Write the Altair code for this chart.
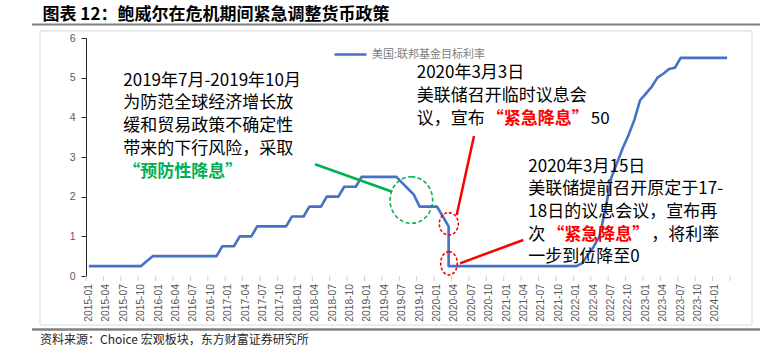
import altair as alt
import pandas as pd

# ---------------- data ----------------
months = pd.date_range("2015-01-01", "2024-03-01", freq="MS").strftime("%Y-%m").tolist()

rates = [
    0.25, 0.25, 0.25, 0.25, 0.25, 0.25, 0.25, 0.25, 0.25, 0.25,   # 2015-01..2015-10
    0.38,                                                         # 2015-11
    0.5, 0.5, 0.5, 0.5, 0.5, 0.5, 0.5, 0.5, 0.5, 0.5, 0.5, 0.5,   # 2015-12..2016-11
    0.75, 0.75, 0.75,                                             # 2016-12..2017-02
    1.0, 1.0, 1.0,                                                # 2017-03..2017-05
    1.25, 1.25, 1.25, 1.25, 1.25, 1.25,                           # 2017-06..2017-11
    1.5, 1.5, 1.5,                                                # 2017-12..2018-02
    1.75, 1.75, 1.75,                                             # 2018-03..2018-05
    2.0, 2.0, 2.0,                                                # 2018-06..2018-08
    2.25, 2.25, 2.25,                                             # 2018-09..2018-11
    2.5, 2.5, 2.5, 2.5, 2.5, 2.5, 2.5,                            # 2018-12..2019-06
    2.35, 2.2, 2.05,                                              # 2019-07..2019-09
    1.75, 1.75, 1.75, 1.75,                                       # 2019-10..2020-01
    1.5,                                                          # 2020-02
    0.25,                                                         # 2020-03
    0.25, 0.25, 0.25, 0.25, 0.25, 0.25, 0.25, 0.25, 0.25, 0.25, 0.25,
    0.25, 0.25, 0.25, 0.25, 0.25, 0.25, 0.25, 0.25, 0.25, 0.25, 0.25,  # 2020-04..2022-01
    0.32, 0.53, 0.74, 1.0, 1.66, 2.46, 2.84, 3.22, 3.55,          # 2022-02..2022-10
    3.93, 4.43, 4.6, 4.77, 5.0, 5.1, 5.22, 5.25, 5.5,             # 2022-11..2023-07
    5.5, 5.5, 5.5, 5.5, 5.5, 5.5, 5.5, 5.5,                       # 2023-08..2024-03
]

# two emergency cuts inside March 2020: an extra intra-month point
intra_month = "2020-03"
intra_rate = 1.25

series_name = "美国:联邦基金目标利率"
tick_labels = months[::3]
y_ticks = [0, 1, 2, 3, 4, 5, 6]

rows = []
order = 0
for i, (m, r) in enumerate(zip(months, rates)):
    if m == intra_month:
        rows.append({"idx": i, "month": m, "rate": intra_rate, "order": order, "series": series_name})
        order += 1
    rows.append({"idx": i, "month": m, "rate": r, "order": order, "series": series_name})
    order += 1
df = pd.DataFrame(rows)

# x labels every 3 months (centred on their month), tick marks on band boundaries
label_df = pd.DataFrame({"pos": [months.index(t) for t in tick_labels], "label": tick_labels})
tick_pos = pd.DataFrame({"pos": [k - 0.5 for k in range(0, len(months) + 1, 3)]})

# ---------------- layout ----------------
W, H = 644, 238
CJK = "Noto Sans CJK SC"
LAT = "Liberation Sans"
BLUE = "#4472C4"
GREEN = "#00B050"
RED = "#FF0000"
FS = 17

x_scale = alt.Scale(domain=[-0.5, len(months) - 0.5], nice=False, zero=False)
y_scale = alt.Scale(domain=[0, 6], nice=False)

line = alt.Chart(df).mark_line(strokeWidth=2.6, strokeJoin="round").encode(
    x=alt.X(
        "idx:Q", scale=x_scale,
        axis=alt.Axis(labels=False, ticks=False, grid=False,
                      domainColor="#d9d9d9", title=None),
    ),
    y=alt.Y(
        "rate:Q", scale=y_scale,
        axis=alt.Axis(
            values=y_ticks, grid=False, domainColor="#262626", tickColor="#262626",
            tickSize=5, labelPadding=6, labelColor="#595959", labelFont=LAT,
            labelFontSize=10.5, title=None, format="d",
        ),
    ),
    color=alt.Color(
        "series:N", scale=alt.Scale(range=[BLUE]),
        legend=alt.Legend(
            orient="none", legendX=247, legendY=-1, title=None,
            symbolType="stroke", symbolSize=1024, symbolStrokeWidth=2.6,
            labelFontSize=11, labelColor="#808080", labelFont=CJK,
            padding=0, labelOffset=4,
        ),
    ),
    order="order:Q",
)

ticks = alt.Chart(tick_pos).mark_rule(color="#d0d0d0", strokeWidth=1).encode(
    x=alt.X("pos:Q", scale=x_scale, axis=None),
    y=alt.value(H), y2=alt.value(H + 5),
)

x_labels = alt.Chart(label_df).mark_text(
    angle=270, align="right", baseline="middle", fontSize=10.3, font=LAT,
    color="#595959",
).encode(
    x=alt.X("pos:Q", scale=x_scale, axis=None),
    y=alt.value(H + 8),
    text="label:N",
)

one = pd.DataFrame({"t": [""]})


def txt(s, x, y, color="#000000", size=FS, weight="normal", font=CJK):
    return alt.Chart(pd.DataFrame({"t": [s]})).mark_text(
        align="left", baseline="middle", fontSize=size, fontWeight=weight,
        font=font, color=color,
    ).encode(text="t:N", x=alt.value(x), y=alt.value(y))


def rule(x1, y1, x2, y2, color, width=2.5, dash=None):
    kw = {"color": color, "strokeWidth": width}
    if dash:
        kw["strokeDash"] = dash
    return alt.Chart(one).mark_rule(**kw).encode(
        x=alt.value(x1), y=alt.value(y1), x2=alt.value(x2), y2=alt.value(y2)
    )


def ellipse(cx, cy, rx, ry, color, dash):
    b = ry / rx
    k = 0.5523
    path = (f"M0,{-b} C{k},{-b} 1,{-k*b} 1,0 C1,{k*b} {k},{b} 0,{b} "
            f"C{-k},{b} -1,{k*b} -1,0 C-1,{-k*b} {-k},{-b} 0,{-b} Z")
    return alt.Chart(one).mark_point(
        shape=path, size=(2 * rx) ** 2, filled=False, color=color,
        strokeWidth=1.6, strokeDash=dash, opacity=1,
    ).encode(x=alt.value(cx), y=alt.value(cy))


# frame, title, source
frame = alt.Chart(one).mark_rect(fill=None, stroke="#d9d9d9", strokeWidth=1).encode(
    x=alt.value(-46), x2=alt.value(666), y=alt.value(-7), y2=alt.value(287)
)
top_line = rule(-54, -13.5, 674, -13.5, "#808080", 2)
bottom_line = rule(-54, 291.5, 674, 291.5, "#808080", 2.5)
title = txt("图表 12：鲍威尔在危机期间紧急调整货币政策", -43.5, -23, "#000000", 17, "bold")
source = txt("资料来源：Choice 宏观板块，东方财富证券研究所", -46, 302, "#262626", 12)

# annotation block 1
b1x = 37.3
b1 = [
    txt("2019年7月-2019年10月", b1x, 42.7),
    txt("为防范全球经济增长放", b1x, 65.4),
    txt("缓和贸易政策不确定性", b1x, 88.1),
    txt("带来的下行风险，采取", b1x, 110.8),
    txt("“预防性降息”", b1x, 133.5, GREEN, FS, "bold"),
]
# annotation block 2
b2x = 330.7
b2 = [
    txt("2020年3月3日", b2x, 35.3),
    txt("美联储召开临时议息会", b2x, 58.1),
    txt("议，宣布", b2x, 80.9),
    txt("“紧急降息”", b2x + 4 * FS + 2, 80.9, RED, FS, "bold"),
    txt("50", b2x + 10 * FS + 4, 80.9),
]
# annotation block 3
b3x = 442.3
b3 = [
    txt("2020年3月15日", b3x, 128.7),
    txt("美联储提前召开原定于17-", b3x, 151.3),
    txt("18日的议息会议，宣布再", b3x, 173.9),
    txt("次", b3x, 196.5),
    txt("“紧急降息”", b3x + FS + 2, 196.5, RED, FS, "bold"),
    txt("，将利率", b3x + 7 * FS + 4, 196.5),
    txt("一步到位降至0", b3x, 219.1),
]

marks = [
    rule(229, 126.3, 306.3, 153.7, GREEN, 2.5),
    ellipse(325.3, 162, 21.3, 23.3, GREEN, [4, 2.5]),
    rule(370.7, 177, 388, 98, RED, 2.5),
    rule(374, 225.3, 437.3, 202, RED, 2.5),
    ellipse(362.8, 185.8, 9.5, 11.2, RED, [3, 2]),
    ellipse(363, 225.3, 8.3, 11.7, RED, [3, 2]),
]

chart = alt.layer(
    frame, top_line, bottom_line, title, source, ticks, x_labels, line,
    *marks, *b1, *b2, *b3
).properties(
    width=W, height=H,
    padding={"left": 86, "top": 38, "right": 54, "bottom": 76},
    autosize=alt.AutoSizeParams(type="none"),
    background="white",
).configure_view(stroke=None)

chart.save("out.html", embed_options={"renderer": "svg", "actions": False})
